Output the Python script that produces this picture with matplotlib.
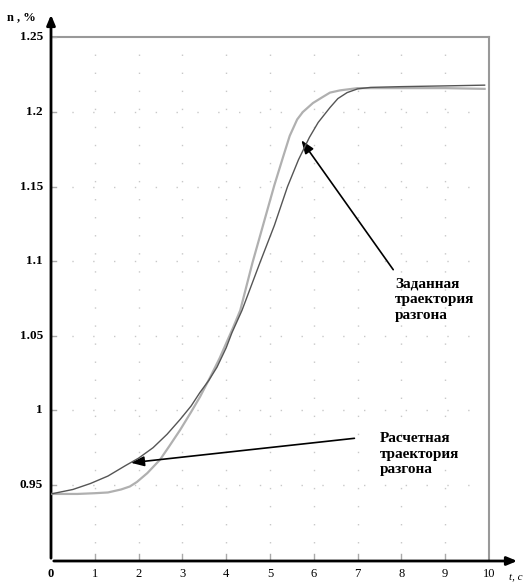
import matplotlib
matplotlib.use("Agg")
import matplotlib.pyplot as plt

# расчетная траектория (тёмная линия)
t_calc = [0, 0.5, 0.9, 1.3, 1.7, 2.0, 2.33, 2.65, 2.95, 3.2, 3.4, 3.6, 3.79, 4.0, 4.13, 4.36, 4.77, 5.1,
          5.4, 5.65, 5.9, 6.1, 6.37, 6.55, 6.76, 7.0, 7.3, 8, 9, 9.9]
n_calc = [0.944, 0.947, 0.951, 0.956, 0.963, 0.968, 0.975, 0.984, 0.994, 1.003, 1.012, 1.020, 1.029, 1.042,
          1.052, 1.067, 1.099, 1.124, 1.150, 1.168, 1.183, 1.193, 1.203, 1.209, 1.213, 1.2155, 1.2165,
          1.217, 1.2175, 1.218]

# заданная траектория (светлая линия)
t_set = [0, 0.6, 1.0, 1.3, 1.6, 1.8, 1.96, 2.2, 2.49, 2.7, 2.95, 3.2, 3.4, 3.63, 3.85, 4.0, 4.15, 4.32,
         4.46, 4.6, 4.85, 5.1, 5.3, 5.45, 5.62, 5.75, 5.98, 6.2, 6.37, 6.6, 7.0, 8, 9, 9.9]
n_set = [0.944, 0.944, 0.9445, 0.945, 0.947, 0.949, 0.952, 0.958, 0.967, 0.976, 0.987, 0.999, 1.009, 1.022,
         1.035, 1.045, 1.055, 1.067, 1.083, 1.099, 1.125, 1.151, 1.170, 1.184, 1.195, 1.200, 1.206, 1.210,
         1.213, 1.2145, 1.216, 1.216, 1.216, 1.2155]

x_ticks = [0, 1, 2, 3, 4, 5, 6, 7, 8, 9, 10]
y_ticks = [0.95, 1.0, 1.05, 1.1, 1.15, 1.2, 1.25]
y_labels = ["0.95", "1", "1.05", "1.1", "1.15", "1.2", "1.25"]

fig = plt.figure(figsize=(5.23, 5.82), dpi=100)
ax = fig.add_axes([51 / 523, 1 - 561 / 582, 469 / 523, 549 / 582])
ax.set_xlim(0, 469 / 43.8)
ax.set_ylim(0.95 - (561 - 485) / 1492, 0.95 + (485 - 12) / 1492)
ymin = ax.get_ylim()[0]

for s in ax.spines.values():
    s.set_visible(False)

# точечная сетка
for x in x_ticks[1:-1]:
    ax.plot([x, x], [ymin, 1.25], color="#c8c8c8", lw=1, ls=(0, (1, 12)), zorder=0)
for y in y_ticks[:-1]:
    ax.plot([0, 10], [y, y], color="#c8c8c8", lw=1, ls=(0, (1, 14)), zorder=0)

# рамка
ax.plot([0, 10], [1.25, 1.25], color="#999999", lw=1.5, zorder=1)
ax.plot([10, 10], [ymin, 1.25], color="#999999", lw=1.5, zorder=1)

# оси со стрелками
ax.annotate("", xy=(0, ax.get_ylim()[1]), xytext=(0, ymin),
            arrowprops=dict(arrowstyle="-|>,head_length=0.6,head_width=0.25", color="black", lw=2))
ax.annotate("", xy=(ax.get_xlim()[1], ymin), xytext=(0, ymin),
            arrowprops=dict(arrowstyle="-|>,head_length=0.6,head_width=0.25", color="black", lw=2))

ax.plot(t_set, n_set, color="#b0b0b0", lw=1.6, zorder=3)
ax.plot(t_calc, n_calc, color="#555555", lw=1.0, zorder=4)

ax.set_xticks([])
ax.set_yticks([])
for x in x_ticks:
    ax.text(x, ymin - 0.0045, str(x), ha="center", va="top", fontsize=9,
            family="Liberation Serif", fontweight="bold" if x == 0 else "normal")
    if 0 < x < 10:
        ax.plot([x, x], [ymin, ymin + 0.005], color="#aaaaaa", lw=1)
for y, lab in zip(y_ticks, y_labels):
    ax.text(-0.18, y, lab, ha="right", va="center", fontsize=9.5,
            family="Liberation Serif", fontweight="bold")
    ax.plot([0, 0.12], [y, y], color="#aaaaaa", lw=1)

fig.text(7 / 523, 1 - 17 / 582, "n , %", fontsize=9, family="Liberation Serif",
         fontweight="bold", va="center")
fig.text(509 / 523, 1 - 577 / 582, "t, c", fontsize=8, family="Liberation Serif",
         style="italic", va="center")

arrow = dict(arrowstyle="-|>,head_length=0.8,head_width=0.3", color="black", lw=1.2)
ax.annotate("", xy=(5.68, 1.1826), xytext=(7.85, 1.0928), arrowprops=arrow)
ax.annotate("", xy=(1.76, 0.9647), xytext=(6.99, 0.9815), arrowprops=arrow)

ax.text(7.85, 1.074, "Заданная\nтраектория\nразгона", ha="left", va="center",
        fontsize=11, family="Liberation Serif", fontweight="bold", linespacing=1.25)
ax.text(7.51, 0.9705, "Расчетная\nтраектория\nразгона", ha="left", va="center",
        fontsize=11, family="Liberation Serif", fontweight="bold", linespacing=1.25)

fig.savefig("out.png", dpi=100)
